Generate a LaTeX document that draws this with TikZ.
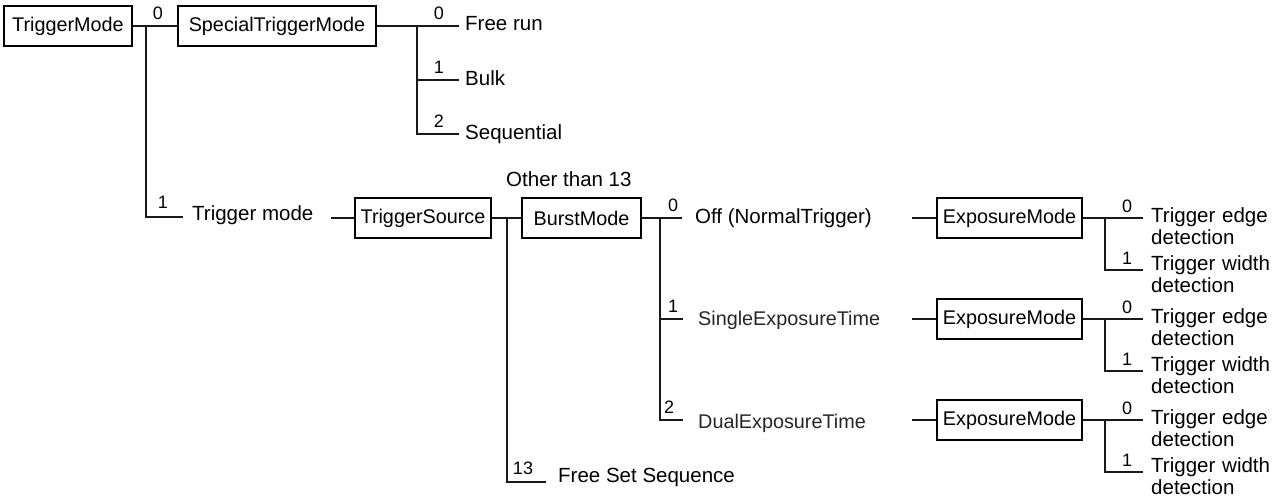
\documentclass[tikz,border=0pt]{standalone}
\usepackage{fontspec}
\setmainfont{Liberation Sans}
\begin{document}
\begin{tikzpicture}[x=1pt,y=-1pt,
  box/.style={draw, line width=1.5pt, minimum height=40pt, inner sep=0pt,
    font=\fontsize{19.8}{22}\selectfont},
  lbl/.style={anchor=base west, inner sep=0pt, font=\fontsize{20.5}{22}\selectfont},
  sublbl/.style={anchor=base west, inner sep=0pt, text=black!85,
    font=\fontsize{19.8}{22}\selectfont},
  two/.style={anchor=base west, inner sep=0pt, text width=140pt, align=left,
    font=\fontsize{20.5}{22}\selectfont},
  num/.style={anchor=base, inner sep=0pt, font=\fontsize{18}{20}\selectfont},
  wire/.style={line width=1.3pt, draw=black!90}]
\useasboundingbox (0,0) rectangle (1283,501);

% ---- TriggerMode and the special trigger branch
\node[box, minimum width=128pt] (tm) at (68,26) {TriggerMode};
\node[box, minimum width=198pt] (stm) at (277,26) {SpecialTriggerMode};
\node[num] (n-tm0) at (158,19) {0};
\draw[wire] (tm.east) -- (stm.west);

\coordinate (jtm) at (146,26);
\coordinate (etm1) at (183,217);
\draw[wire] (jtm) |- (etm1);
\node[num] (n-tm1) at (163,208) {1};
\node[lbl] (tmode) at (192,220) {Trigger mode};

\coordinate (jstm) at (417,26);
\coordinate (e-free) at (459,26);
\coordinate (e-bulk) at (459,80);
\coordinate (e-seq) at (459,134);
\draw[wire] (stm.east) -- (e-free);
\draw[wire] (jstm) |- (e-seq);
\draw[wire] (jstm |- e-bulk) -- (e-bulk);
\node[num] (n-s0) at (439,19) {0};
\node[num] (n-s1) at (439,73) {1};
\node[num] (n-s2) at (439,127) {2};
\node[lbl] (free) at (465,30) {Free run};
\node[lbl] (bulk) at (465,85) {Bulk};
\node[lbl] (seq) at (465,139) {Sequential};

% ---- TriggerSource and BurstMode
\node[box, minimum width=136pt] (ts) at (423,218) {TriggerSource};
\node[box, minimum width=119pt] (bm) at (581.5,218) {BurstMode};
\coordinate (s-ts) at (331,218);
\draw[wire] (s-ts) -- (ts.west);
\draw[wire] (ts.east) -- (bm.west);
\node[lbl] (other) at (506,186) {Other than 13};

\coordinate (jts) at (507,218);
\coordinate (e-fss) at (546,482);
\draw[wire] (jts) |- (e-fss);
\node[num] (n-13) at (523,474) {13};
\node[lbl] (fss) at (558,482) {Free Set Sequence};

\coordinate (jbm) at (660,218);
\coordinate (e-off) at (682,218);
\coordinate (e-single) at (683,319);
\coordinate (e-dual) at (683,420);
\draw[wire] (bm.east) -- (e-off);
\draw[wire] (jbm) |- (e-dual);
\draw[wire] (jbm |- e-single) -- (e-single);
\node[num] (n-b0) at (673,211) {0};
\node[num] (n-b1) at (673,312) {1};
\node[num] (n-b2) at (669,413) {2};
\node[lbl] (off) at (695,223) {Off (NormalTrigger)};
\node[sublbl] (single) at (698,325) {SingleExposureTime};
\node[sublbl] (dual) at (698,428) {DualExposureTime};

% ---- ExposureMode groups
\foreach \i/\y in {1/218, 2/319, 3/420} {
  \node[box, minimum width=145pt] (em\i) at (1009.5,\y) {ExposureMode};
  \coordinate (s-em\i) at (912,\y);
  \draw[wire] (s-em\i) -- (em\i.west);
  \coordinate (j-em\i) at (1105,\y);
  \coordinate (e-edge\i) at (1143,\y);
  \coordinate (e-width\i) at (1143,\y+52);
  \draw[wire] (em\i.east) -- (e-edge\i);
  \draw[wire] (j-em\i) |- (e-width\i);
  \node[num] (n-e0-\i) at (1127,\y-6) {0};
  \node[num] (n-e1-\i) at (1127,\y+46) {1};
  \node[two] (edge\i) at (1151,\y+4) {Trigger edge\\detection};
  \node[two] (width\i) at (1151,\y+52) {Trigger width\\detection};
}
\end{tikzpicture}
\end{document}
